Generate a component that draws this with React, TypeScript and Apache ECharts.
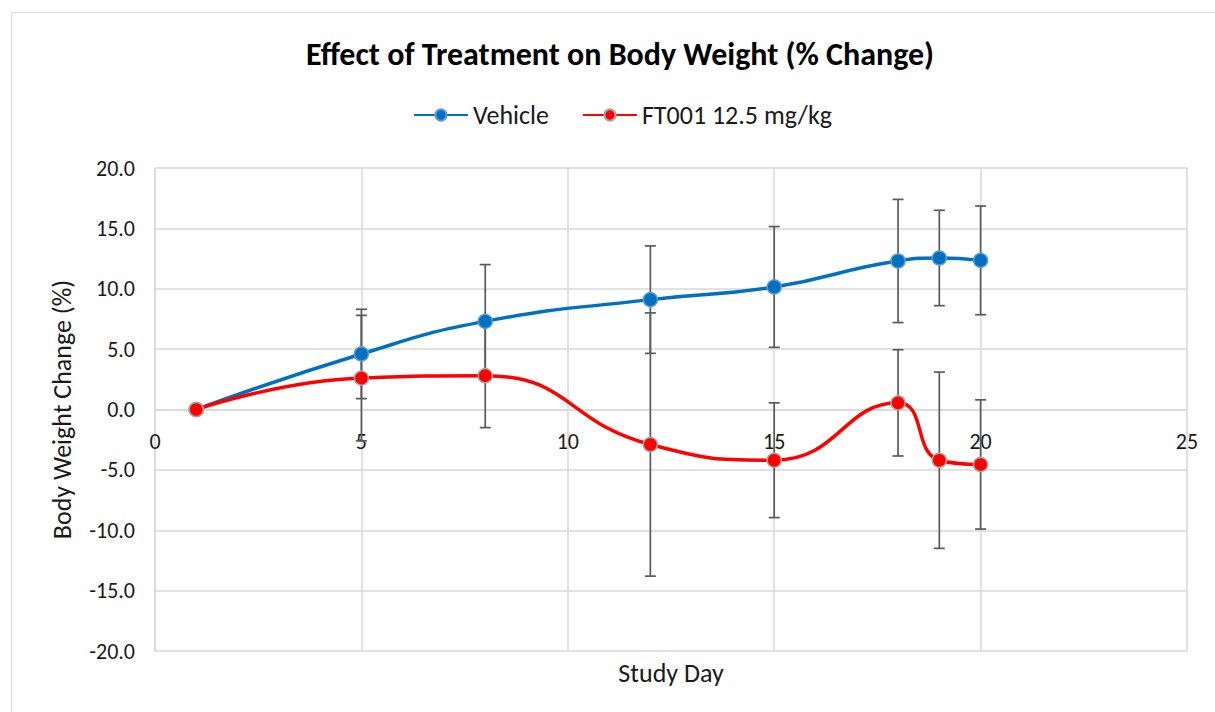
import React, { useEffect, useRef } from "react";
import * as echarts from "echarts";

const days = [1, 5, 8, 12, 15, 18, 19, 20];
const vehicleMean = [0, 4.6, 7.3, 9.1, 10.15, 12.3, 12.55, 12.35];
const vehicleErr = [0, 3.7, 4.7, 4.45, 5.0, 5.1, 3.95, 4.5];
const ftMean = [0, 2.6, 2.8, -2.9, -4.2, 0.55, -4.2, -4.55];
const ftErr = [0, 5.2, 4.3, 10.9, 4.75, 4.4, 7.3, 5.35];
const seriesNames = ["Vehicle", "FT001 12.5 mg/kg"];
const yTicks = { min: -20, max: 20, interval: 5 };
const xTicks = { min: 0, max: 25, interval: 5 };

const FONT = "Carlito, Lato, sans-serif";
const W = 1215;
const H = 712;
const GRID = { left: 155, right: 28, top: 168, bottom: 61 };

function errData(mean: number[], err: number[]) {
  return days
    .map((d, i) => [d, mean[i] - err[i], mean[i] + err[i], err[i]])
    .filter((r) => r[3] > 0);
}

const renderErr = (params: any, api: any) => {
  const x = api.value(0);
  const lo = api.coord([x, api.value(1)]);
  const hi = api.coord([x, api.value(2)]);
  const hw = 5.5;
  const st = { stroke: "#5a5a5a", lineWidth: 1.7 };
  return {
    type: "group",
    children: [
      { type: "line", shape: { x1: hi[0], y1: hi[1], x2: lo[0], y2: lo[1] }, style: st },
      { type: "line", shape: { x1: hi[0] - hw, y1: hi[1], x2: hi[0] + hw, y2: hi[1] }, style: st },
      { type: "line", shape: { x1: lo[0] - hw, y1: lo[1], x2: lo[0] + hw, y2: lo[1] }, style: st },
    ],
  };
};

export default function App() {
  const ref = useRef<HTMLDivElement>(null);
  useEffect(() => {
    document.body.style.margin = "0";
    const chart = echarts.init(ref.current!, undefined, { renderer: "svg" });
    // place the x axis where y = 0 (Excel "axis crosses at 0")
    const gridH = H - GRID.top - GRID.bottom;
    const zeroOffset = -gridH * ((0 - yTicks.min) / (yTicks.max - yTicks.min));
    chart.setOption({
      animation: false,
      backgroundColor: "#ffffff",
      textStyle: { fontFamily: FONT },
      title: {
        text: "Effect of Treatment on Body Weight (% Change)",
        left: 615,
        textAlign: "center",
        top: 33,
        textStyle: { fontFamily: FONT, fontSize: 32, fontWeight: "bold", color: "#000" },
      },
      legend: {
        top: 97,
        left: 408,
        itemWidth: 54,
        itemHeight: 14,
        itemGap: 33,
        textStyle: { fontFamily: FONT, fontSize: 26, color: "#1a1a1a" },
        data: seriesNames,
      },
      graphic: [
        {
          type: "rect",
          shape: { x: 11.5, y: 12.5, width: 1220, height: 720 },
          style: { fill: "none", stroke: "#d9d9d9", lineWidth: 1 },
          silent: true,
        },
      ],
      grid: {
        ...GRID,
        containLabel: false,
        outerBoundsMode: "none",
      },
      xAxis: {
        type: "value",
        min: xTicks.min,
        max: xTicks.max,
        interval: xTicks.interval,
        offset: zeroOffset,
        name: "Study Day",
        nameLocation: "middle",
        nameGap: 250,
        nameTextStyle: { fontFamily: FONT, fontSize: 26, color: "#1a1a1a" },
        axisLine: {
          show: true,
          onZero: false,
          lineStyle: { color: "#d9d9d9", width: 1.5 },
        },
        axisTick: { show: false },
        axisLabel: { fontFamily: FONT, fontSize: 22, color: "#1a1a1a", margin: 21 },
        splitLine: { show: true, lineStyle: { color: "#d9d9d9", width: 1.5 } },
      },
      yAxis: {
        type: "value",
        min: yTicks.min,
        max: yTicks.max,
        interval: yTicks.interval,
        name: "Body Weight Change (%)",
        nameLocation: "middle",
        nameGap: 80,
        nameTextStyle: { fontFamily: FONT, fontSize: 26, color: "#1a1a1a" },
        axisLine: { show: true, onZero: false, lineStyle: { color: "#d9d9d9", width: 1.5 } },
        axisTick: { show: false },
        axisLabel: {
          fontFamily: FONT,
          fontSize: 22,
          color: "#1a1a1a",
          margin: 20,
          formatter: (v: number) => v.toFixed(1),
        },
        splitLine: { show: true, lineStyle: { color: "#d9d9d9", width: 1.5 } },
      },
      series: [
        {
          type: "custom",
          name: "vehErr",
          renderItem: renderErr,
          data: errData(vehicleMean, vehicleErr),
          encode: { x: 0, y: [1, 2] },
          z: 1,
          silent: true,
        },
        {
          type: "custom",
          name: "ftErr",
          renderItem: renderErr,
          data: errData(ftMean, ftErr),
          encode: { x: 0, y: [1, 2] },
          z: 1,
          silent: true,
        },
        {
          type: "line",
          name: seriesNames[0],
          data: days.map((d, i) => [d, vehicleMean[i]]),
          smooth: 0.5,
          symbol: "circle",
          symbolSize: 14,
          z: 3,
          lineStyle: { color: "#0070C0", width: 3.5 },
          itemStyle: { color: "#0070C0", borderColor: "#5B9BD5", borderWidth: 1.5 },
        },
        {
          type: "line",
          name: seriesNames[1],
          data: days.map((d, i) => [d, ftMean[i]]),
          smooth: 0.5,
          symbol: "circle",
          symbolSize: 14,
          z: 3,
          lineStyle: { color: "#FF0000", width: 3.5 },
          itemStyle: { color: "#FF0000", borderColor: "#A5A5A5", borderWidth: 1.5 },
        },
      ],
    });
    return () => chart.dispose();
  }, []);
  return <div ref={ref} style={{ width: W, height: H }} />;
}
